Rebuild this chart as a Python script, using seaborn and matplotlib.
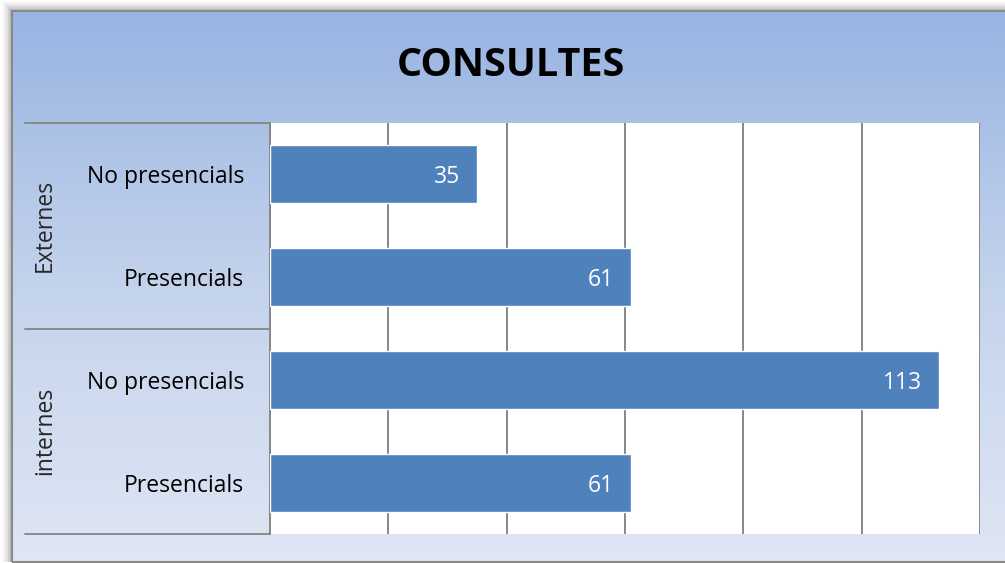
import numpy as np
import pandas as pd
import matplotlib
matplotlib.use("Agg")
import matplotlib.pyplot as plt
import seaborn as sns
from matplotlib.colors import LinearSegmentedColormap
from matplotlib.patches import Rectangle

# chart data
groups = ["Externes", "Externes", "internes", "internes"]
types = ["No presencials", "Presencials", "No presencials", "Presencials"]
values = [35, 61, 113, 61]
title = "CONSULTES"

df = pd.DataFrame({"group": groups, "type": types, "value": values})
df["row"] = [f"{g} {t}" for g, t in zip(groups, types)]

sns.set_theme(style="white")
plt.rcParams["font.family"] = ["Open Sans", "DejaVu Sans"]

W, H = 1005, 563
fig = plt.figure(figsize=(W / 100, H / 100), dpi=100)
fig.patch.set_facecolor("white")

def fx(px):
    return px / W

def fy(py):
    return 1 - py / H

# soft shadow at top / left of the frame
for i, a in enumerate([0.05, 0.08, 0.12, 0.18, 0.25]):
    off = 10 - 2 * i
    fig.patches.append(Rectangle((fx(12 - off), fy(562)), 1.0, fy(11 - off) - fy(562),
                                 transform=fig.transFigure, facecolor="#808080",
                                 alpha=a, edgecolor="none", zorder=0))

# gradient background of the chart frame
bg = fig.add_axes([fx(12), fy(562), 1 - fx(12), fy(11) - fy(562)], zorder=1)
cmap = LinearSegmentedColormap.from_list("bg", ["#98B4E2", "#C4D3EC", "#DFE6F4"])
bg.imshow(np.linspace(0, 1, 256).reshape(-1, 1), aspect="auto", cmap=cmap,
          extent=[0, 1, 0, 1])
bg.set_axis_off()
fig.patches.append(Rectangle((fx(12), fy(562)), 1.0, fy(11) - fy(562),
                             transform=fig.transFigure, facecolor="none",
                             edgecolor="#8a8a8a", lw=1.5, zorder=2))

# main plot area
x0, x1, y0, y1 = 270, 980, 123, 534
ax = fig.add_axes([fx(x0), fy(y1), fx(x1) - fx(x0), fy(y0) - fy(y1)], zorder=3)
ax.set_facecolor("white")
sns.barplot(data=df, x="value", y="row", orient="h", color="#4F81BD",
            saturation=1, width=0.565, ax=ax, zorder=3)

ax.set_xlim(0, 120)
ax.set_ylim(len(types) - 0.5, -0.5)
ax.set_xticks(range(0, 121, 20))
ax.set_xticklabels([])
ax.grid(axis="x", color="#878787", lw=1.4)
ax.set_axisbelow(True)
ax.set_xlabel("")
ax.set_ylabel("")
ax.set_yticks(range(len(types)))
ax.set_yticklabels(types, fontsize=16.5, color="black")
ax.tick_params(axis="y", length=0, pad=18.5)
ax.tick_params(axis="x", length=0)
for s in ["top", "right", "bottom"]:
    ax.spines[s].set_visible(False)
ax.spines["left"].set_color("#878787")
ax.spines["left"].set_linewidth(1.4)

# value labels inside the bars
for p, v in zip(ax.patches, values):
    ax.annotate(str(v), (p.get_width(), p.get_y() + p.get_height() / 2),
                xytext=(-12, 0), textcoords="offset points",
                ha="right", va="center_baseline", color="white", fontsize=16.5)

# group labels and separators
lx = (25 - x0) / (x1 - x0)
for yv in [-0.5, 1.5, 3.5]:
    ax.plot([lx, 0], [yv, yv], transform=ax.get_yaxis_transform(),
            color="#8a8a8a", lw=1.4, clip_on=False)
gx = (45 - x0) / (x1 - x0)
for i, g in enumerate(["Externes", "internes"]):
    ax.text(gx, 2 * i + 0.5, g, transform=ax.get_yaxis_transform(),
            rotation=90, ha="center", va="center", fontsize=16.5)

fig.text(fx(511), fy(65), title, ha="center", va="center",
         fontsize=28.5, fontweight="bold", color="black")

fig.savefig("out.png", dpi=100)
